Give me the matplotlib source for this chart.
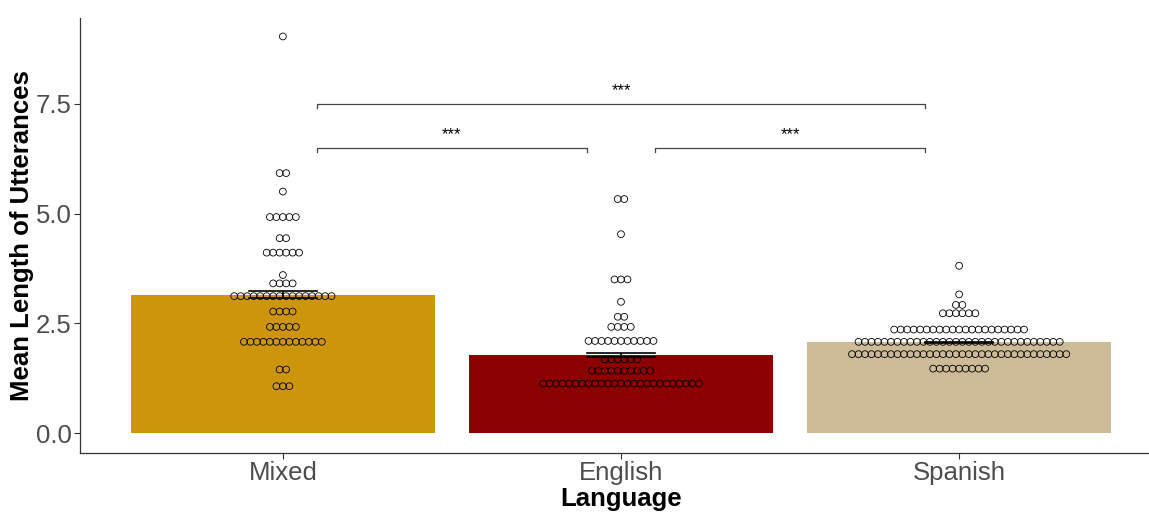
import numpy as np
import matplotlib
matplotlib.use("Agg")
import matplotlib.pyplot as plt

plt.rcParams["font.family"] = ["Liberation Sans", "DejaVu Sans"]

# Categories and bar summaries (mean and standard error)
languages = ["Mixed", "English", "Spanish"]
bar_means = [3.15, 1.78, 2.07]
bar_se = [0.08, 0.045, 0.015]
bar_colors = ["#CD950C", "#8B0000", "#CDBA96"]

# Binned participant values (bin centre) and number of participants per bin
mixed_values = [9.03, 5.92, 5.50, 4.92, 4.44, 4.11, 3.60, 3.41, 3.12, 2.77, 2.42, 2.08, 1.45, 1.07]
mixed_counts = [1, 2, 1, 5, 2, 6, 1, 4, 16, 4, 5, 13, 2, 3]

english_values = [5.33, 4.53, 3.50, 2.99, 2.65, 2.42, 2.10, 1.68, 1.42, 1.13]
english_counts = [2, 1, 3, 1, 2, 4, 11, 6, 10, 25]

spanish_values = [3.81, 3.16, 2.92, 2.73, 2.36, 2.08, 1.80, 1.47]
spanish_counts = [1, 1, 2, 6, 21, 32, 34, 9]

# Pairwise comparisons: (group a, group b, bracket height, label)
comparisons = [
    ("Mixed", "English", 6.5, "***"),
    ("English", "Spanish", 6.5, "***"),
    ("Mixed", "Spanish", 7.5, "***"),
]

groups = {
    "Mixed": (mixed_values, mixed_counts),
    "English": (english_values, english_counts),
    "Spanish": (spanish_values, spanish_counts),
}

fig = plt.figure(figsize=(11.49, 5.17), dpi=100)
ax = fig.add_axes([80 / 1149, 64 / 517, 1082 / 1149, 435 / 517])

xpos = np.arange(1, len(languages) + 1)
ax.bar(xpos, bar_means, width=0.9, color=bar_colors, zorder=1)

# Centred dot stacks, one row per bin
dot_step = 0.0192
for xi, lang in zip(xpos, languages):
    vals, cnts = groups[lang]
    xs, ys = [], []
    for v, n in zip(vals, cnts):
        offs = (np.arange(n) - (n - 1) / 2) * dot_step
        xs.extend(xi + offs)
        ys.extend([v] * n)
    ax.scatter(xs, ys, s=24, facecolors="none", edgecolors="black",
               linewidths=0.6, zorder=2)

# Mean +/- SE error bars
ax.errorbar(xpos, bar_means, yerr=bar_se, fmt="none", ecolor="black",
            elinewidth=1.2, capsize=0, zorder=3)
for xi, m, se in zip(xpos, bar_means, bar_se):
    for yy in (m - se, m + se):
        ax.plot([xi - 0.1, xi + 0.1], [yy, yy], color="black", lw=1.2, zorder=3)

# Significance brackets
idx = {lang: i + 1 for i, lang in enumerate(languages)}
tick_len = 0.1
for a, b, h, lab in comparisons:
    x0 = idx[a] + 0.1
    x1 = idx[b] - 0.1
    ax.plot([x0, x0, x1, x1], [h - tick_len, h, h, h - tick_len],
            color="#444444", lw=0.9, zorder=4)
    ax.text((x0 + x1) / 2, h + 0.12, lab, ha="center", va="bottom",
            fontsize=12, color="black")

ax.set_xlim(0.4, 3.6)
ax.set_ylim(-0.45, 9.45)
ax.set_xticks(xpos)
ax.set_xticklabels(languages)
ax.set_yticks([0.0, 2.5, 5.0, 7.5])
ax.set_yticklabels(["0.0", "2.5", "5.0", "7.5"])
ax.tick_params(axis="both", labelsize=18.5, labelcolor="#4D4D4D",
               color="#333333", length=4, width=0.8, pad=2)

for side in ("top", "right"):
    ax.spines[side].set_visible(False)
for side in ("left", "bottom"):
    ax.spines[side].set_color("#333333")
    ax.spines[side].set_linewidth(0.9)

ax.set_xlabel("Language", fontsize=18.5, fontweight="bold", labelpad=1)
ax.set_ylabel("Mean Length of Utterances", fontsize=18.5, fontweight="bold",
              labelpad=1)

fig.savefig("out.png", dpi=100)
